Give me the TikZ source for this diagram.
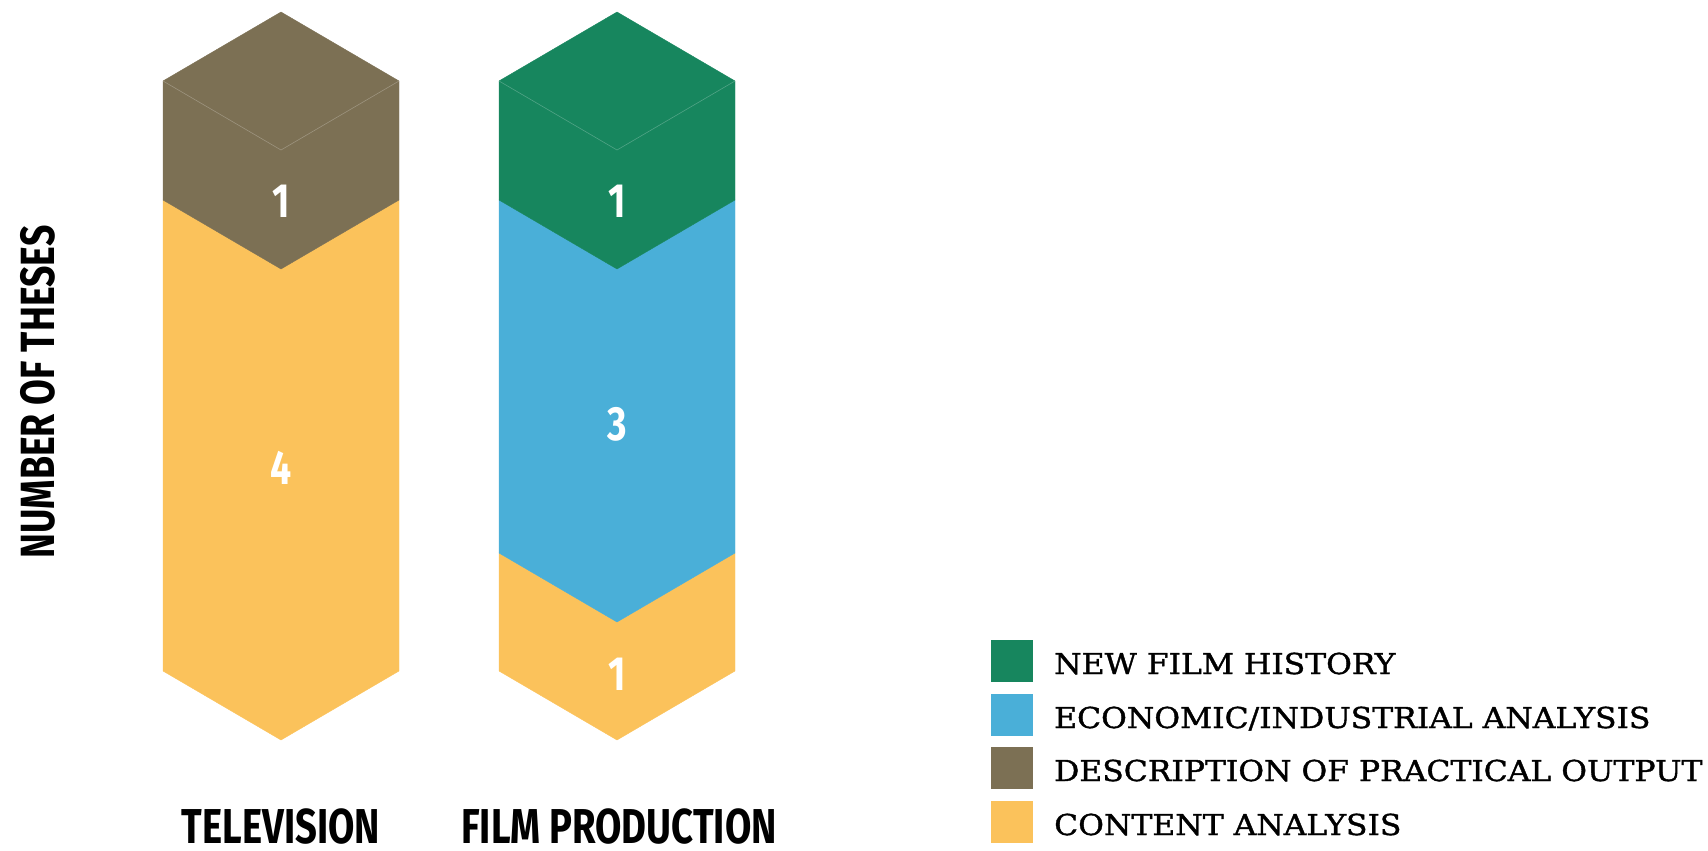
\documentclass[tikz,border=0pt]{standalone}
\usepackage{fontspec}
\usepackage{tikz}
\setmainfont[FakeStretch=1.09, FakeBold=1.3]{DejaVu Serif}
\newfontfamily\barfont[FakeStretch=0.78]{Fira Sans}
\usetikzlibrary{positioning}
\definecolor{filmgreen}{HTML}{17865E}
\definecolor{econblue}{HTML}{4AAFD8}
\definecolor{practbrown}{HTML}{7C7054}
\definecolor{contyellow}{HTML}{FBC25B}
\tikzset{seg/.style = {fill = #1, draw = #1, line width = 0.4}}
\tikzset{edge/.style = {draw = #1, line width = 0.6}}
\tikzset{num/.style = {text = white, inner sep = 0, anchor = base, font = \barfont\bfseries\fontsize{48}{48}\selectfont}}
\tikzset{cat/.style = {inner sep = 0, anchor = base, text depth = 0, font = \barfont\bfseries\fontsize{49}{49}\selectfont}}
\tikzset{legbox/.style = {fill = #1, minimum size = 42, inner sep = 0, anchor = north west}}
\tikzset{legtext/.style = {inner sep = 0, anchor = base west, font = \fontsize{28.8}{28.8}\selectfont}}

\begin{document}
\begin{tikzpicture}[x=1pt, y=-1pt]
          \useasboundingbox (0, 0) rectangle (1708, 851);

          % television
          \draw [seg=contyellow] (163, 200) -- (281, 269) -- (399, 200) -- (399, 671) -- (281, 740) -- (163, 671) -- cycle;
          \draw [seg=practbrown] (163, 81) -- (281, 12) -- (399, 81) -- (399, 200) -- (281, 269) -- (163, 200) -- cycle;
          \draw [edge=practbrown!75!white] (163, 81) -- (281, 150) -- (399, 81);
          \node [num] (tvone) at (281, 217) {1};
          \node [num] (tvfour) at (281, 484) {4};

          % film production
          \draw [seg=contyellow] (499, 553) -- (617, 622) -- (735, 553) -- (735, 671) -- (617, 740) -- (499, 671) -- cycle;
          \draw [seg=econblue] (499, 200) -- (617, 269) -- (735, 200) -- (735, 553) -- (617, 622) -- (499, 553) -- cycle;
          \draw [seg=filmgreen] (499, 81) -- (617, 12) -- (735, 81) -- (735, 200) -- (617, 269) -- (499, 200) -- cycle;
          \draw [edge=filmgreen!75!white] (499, 81) -- (617, 150) -- (735, 81);
          \node [num] (fpone) at (617, 217) {1};
          \node [num] (fpthree) at (617, 440) {3};
          \node [num] (fpbottom) at (617, 690) {1};

          \node [cat] (tvlabel) at (281, 843) {TELEVISION};
          \node [cat] (fplabel) at (619, 843) {FILM PRODUCTION};
          \node [cat, rotate=90, font = \barfont\bfseries\fontsize{48}{48}\selectfont] (ylabel) at (54, 392) {NUMBER OF THESES};

          % legend
          \node [legbox=filmgreen] (boxgreen) at (991, 640) {};
          \node [legbox=econblue] (boxblue) at (991, 694) {};
          \node [legbox=practbrown] (boxbrown) at (991, 747) {};
          \node [legbox=contyellow] (boxyellow) at (991, 801) {};
          \node [legtext] (leggreen) at (1054, 674) {NEW FILM HISTORY};
          \node [legtext] (legblue) at (1054, 728) {ECONOMIC/INDUSTRIAL ANALYSIS};
          \node [legtext] (legbrown) at (1054, 781) {DESCRIPTION OF PRACTICAL OUTPUT};
          \node [legtext] (legyellow) at (1054, 835) {CONTENT ANALYSIS};
        \end{tikzpicture}
\end{document}
